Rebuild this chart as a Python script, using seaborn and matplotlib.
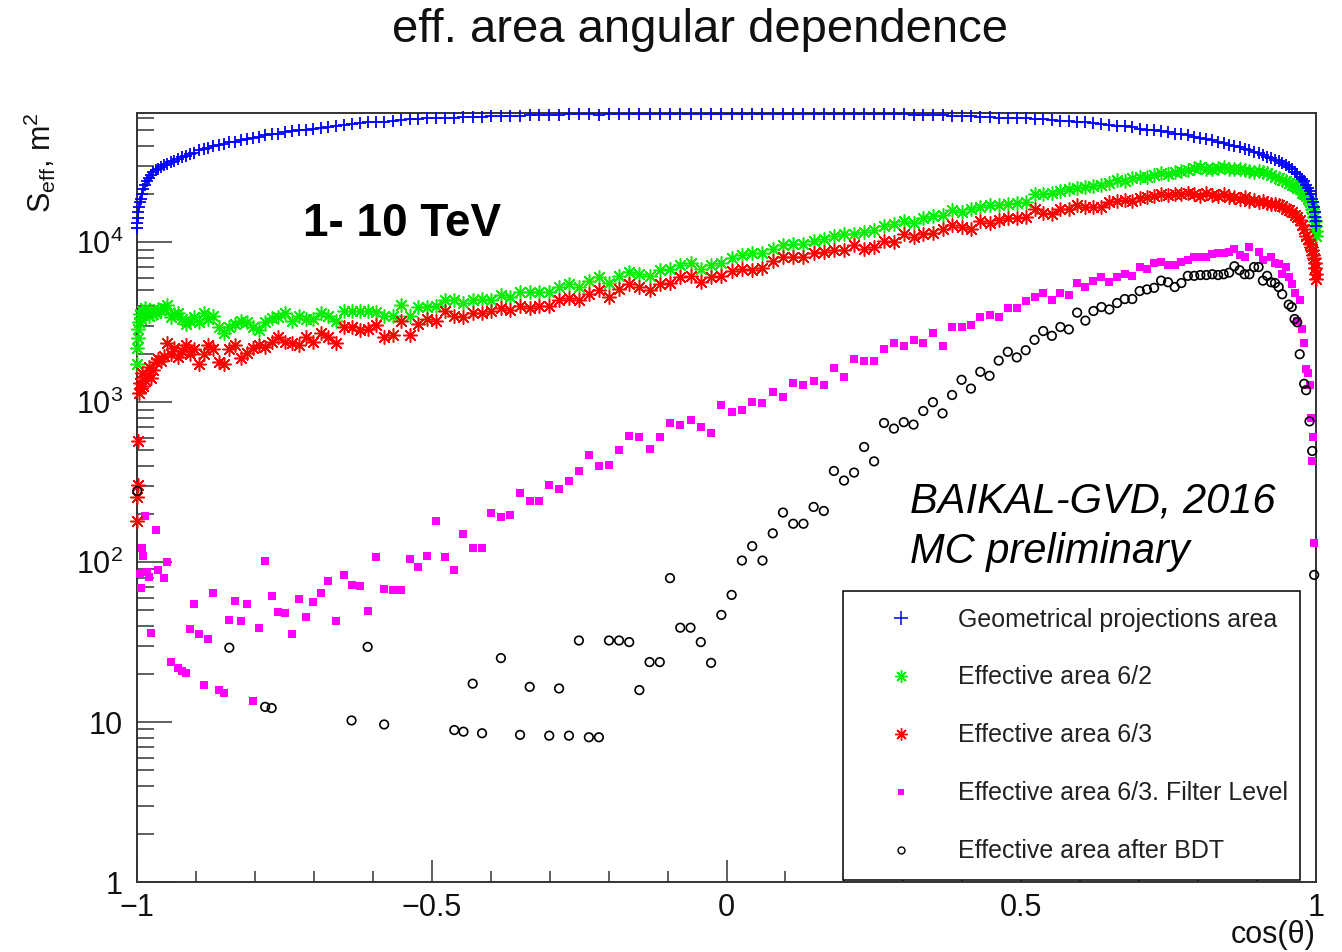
import numpy as np
import pandas as pd
import matplotlib
matplotlib.use("Agg")
import matplotlib.pyplot as plt
import seaborn as sns
from matplotlib.lines import Line2D
from matplotlib.ticker import FixedLocator, FixedFormatter, LogLocator, NullFormatter, MultipleLocator

nan = np.nan

# 1-degree zenith-angle bins; centres run from 179.5 deg down to 0.5 deg,
# so cos(theta) increases from -1 to +1 along every array below.
theta_deg = np.arange(179.5, 0.0, -1.0)
cos_theta = np.cos(np.radians(theta_deg))

# log10 of S_eff [m^2] per bin (nan = empty bin)
log_s_geom = np.array([
    4.09, 4.12, 4.15, 4.19, 4.22, 4.25, 4.27, 4.30, 4.33, 4.355,
    4.38, 4.40, 4.42, 4.44, 4.45, 4.46, 4.47, 4.48, 4.49, 4.50,
    4.51, 4.52, 4.53, 4.54, 4.55, 4.56, 4.575, 4.585, 4.59, 4.60,
    4.61, 4.615, 4.625, 4.63, 4.64, 4.645, 4.655, 4.66, 4.67, 4.675,
    4.68, 4.69, 4.695, 4.70, 4.705, 4.71, 4.715, 4.72, 4.73, 4.735,
    4.74, 4.745, 4.75, 4.75, 4.755, 4.76, 4.765, 4.77, 4.77, 4.775,
    4.775, 4.78, 4.78, 4.785, 4.785, 4.785, 4.79, 4.79, 4.79, 4.79,
    4.795, 4.795, 4.795, 4.795, 4.80, 4.80, 4.80, 4.795, 4.80, 4.80,
    4.80, 4.80, 4.80, 4.80, 4.80, 4.80, 4.80, 4.80, 4.80, 4.80,
    4.80, 4.80, 4.80, 4.80, 4.80, 4.80, 4.80, 4.80, 4.80, 4.80,
    4.80, 4.80, 4.80, 4.80, 4.80, 4.80, 4.80, 4.80, 4.795, 4.795,
    4.795, 4.795, 4.79, 4.79, 4.79, 4.785, 4.785, 4.78, 4.78, 4.775,
    4.775, 4.77, 4.77, 4.765, 4.76, 4.76, 4.755, 4.75, 4.745, 4.74,
    4.735, 4.73, 4.725, 4.72, 4.71, 4.705, 4.70, 4.695, 4.69, 4.68,
    4.675, 4.67, 4.66, 4.655, 4.645, 4.64, 4.63, 4.62, 4.61, 4.60,
    4.595, 4.585, 4.575, 4.565, 4.555, 4.545, 4.535, 4.525, 4.515, 4.505,
    4.495, 4.48, 4.47, 4.455, 4.44, 4.425, 4.41, 4.395, 4.38, 4.36,
    4.34, 4.32, 4.30, 4.27, 4.25, 4.22, 4.19, 4.16, 4.13, 4.10,
])

log_s_62 = np.array([
    3.24, 3.34, 3.46, 3.40, 3.50, 3.55, 3.52, 3.57, 3.55, 3.59,
    3.56, 3.54, 3.57, 3.55, 3.56, 3.58, 3.575, 3.59, 3.61, 3.53,
    3.55, 3.56, 3.52, 3.49, 3.51, 3.53, 3.50, 3.555, 3.52, 3.54,
    3.47, 3.43, 3.47, 3.49, 3.51, 3.50, 3.47, 3.45, 3.50, 3.525,
    3.53, 3.555, 3.51, 3.54, 3.52, 3.52, 3.555, 3.54, 3.51, 3.57,
    3.57, 3.57, 3.57, 3.565, 3.54, 3.54, 3.61, 3.54, 3.595, 3.595,
    3.60, 3.64, 3.64, 3.62, 3.64, 3.645, 3.64, 3.67, 3.655, 3.69,
    3.69, 3.69, 3.69, 3.72, 3.74, 3.72, 3.76, 3.78, 3.745, 3.79,
    3.815, 3.80, 3.79, 3.825, 3.83, 3.855, 3.87, 3.835, 3.855, 3.87,
    3.90, 3.92, 3.93, 3.93, 3.955, 3.985, 3.99, 3.99, 4.01, 4.02,
    4.04, 4.05, 4.05, 4.065, 4.075, 4.10, 4.115, 4.135, 4.12, 4.15,
    4.165, 4.17, 4.20, 4.19, 4.21, 4.22, 4.23, 4.23, 4.24, 4.245,
    4.25, 4.30, 4.30, 4.31, 4.32, 4.33, 4.34, 4.345, 4.35, 4.36,
    4.37, 4.39, 4.385, 4.40, 4.405, 4.41, 4.42, 4.43, 4.425, 4.44,
    4.445, 4.45, 4.465, 4.47, 4.455, 4.46, 4.465, 4.47, 4.46, 4.46,
    4.455, 4.45, 4.445, 4.44, 4.445, 4.44, 4.43, 4.42, 4.41, 4.40,
    4.39, 4.38, 4.37, 4.36, 4.35, 4.34, 4.33, 4.31, 4.30, 4.29,
    4.27, 4.25, 4.23, 4.21, 4.19, 4.16, 4.13, 4.10, 4.07, 4.04,
])

log_s_63 = np.array([
    2.26, 2.41, 2.48, 2.76, 3.06, 3.12, 3.09, 3.18, 3.10, 3.14,
    3.17, 3.22, 3.15, 3.20, 3.25, 3.27, 3.26, 3.29, 3.37, 3.30,
    3.34, 3.28, 3.32, 3.36, 3.30, 3.33, 3.24, 3.30, 3.36, 3.33,
    3.25, 3.24, 3.33, 3.36, 3.275, 3.31, 3.34, 3.36, 3.345, 3.375,
    3.41, 3.375, 3.37, 3.36, 3.41, 3.375, 3.43, 3.41, 3.37, 3.47,
    3.47, 3.45, 3.46, 3.48, 3.41, 3.42, 3.51, 3.42, 3.49, 3.52,
    3.51, 3.57, 3.54, 3.53, 3.555, 3.56, 3.57, 3.59, 3.575, 3.60,
    3.59, 3.60, 3.60, 3.64, 3.65, 3.64, 3.675, 3.70, 3.66, 3.705,
    3.74, 3.72, 3.70, 3.74, 3.745, 3.78, 3.79, 3.75, 3.78, 3.79,
    3.82, 3.83, 3.825, 3.84, 3.88, 3.91, 3.905, 3.91, 3.93, 3.94,
    3.95, 3.95, 3.98, 3.96, 3.97, 4.01, 4.00, 4.05, 4.03, 4.05,
    4.055, 4.085, 4.105, 4.095, 4.085, 4.13, 4.12, 4.14, 4.15, 4.15,
    4.16, 4.21, 4.18, 4.175, 4.21, 4.21, 4.23, 4.22, 4.22, 4.22,
    4.25, 4.255, 4.265, 4.26, 4.275, 4.28, 4.29, 4.30, 4.295, 4.30,
    4.30, 4.31, 4.30, 4.29, 4.31, 4.295, 4.29, 4.30, 4.285, 4.28,
    4.27, 4.28, 4.26, 4.265, 4.25, 4.255, 4.245, 4.24, 4.24, 4.23,
    4.225, 4.21, 4.20, 4.19, 4.17, 4.16, 4.14, 4.11, 4.08, 4.04,
    4.02, 3.99, 3.97, 3.95, 3.92, 3.90, 3.87, 3.84, 3.80, 3.77,
])

log_s_63_filter = np.array([
    nan, nan, nan, nan, nan, 1.925, 1.84, 2.09, 2.04, 2.29,
    1.94, 1.905, 1.56, nan, 2.20, 1.95, nan, 1.90, 2.00, 1.375,
    nan, 1.34, 1.32, 1.305, 1.58, 1.74, 1.55, 1.23, 1.52, 1.81,
    1.20, 1.18, 1.64, 1.76, 1.63, 1.74, 1.13, 1.59, 2.01, 1.79,
    1.69, 1.68, 1.55, 1.77, 1.66, 1.75, 1.81, 1.88, 1.63, 1.92,
    1.86, 1.85, 1.695, 2.035, 1.835, 1.825, 1.825, 2.02, 1.97, 2.04,
    2.26, 2.035, 1.95, 2.175, 2.09, 2.09, 2.31, 2.28, 2.295, 2.435,
    2.385, 2.385, 2.48, 2.46, 2.505, 2.57, 2.67, 2.60, 2.61, 2.70,
    2.79, 2.78, 2.705, 2.785, 2.87, 2.86, 2.89, 2.845, 2.81, 2.98,
    2.94, 2.95, 3.00, 2.995, 3.065, 3.03, 3.12, 3.105, 3.13, 3.105,
    3.215, 3.155, 3.27, 3.26, 3.26, 3.335, 3.37, 3.35, 3.39, 3.37,
    3.43, 3.35, 3.47, 3.47, 3.48, 3.53, 3.545, 3.535, 3.59, 3.59,
    3.63, 3.66, 3.68, 3.64, 3.685, 3.67, 3.745, 3.72, 3.755, 3.78,
    3.75, 3.78, 3.80, 3.79, 3.845, 3.83, 3.87, 3.875, 3.86, 3.86,
    3.875, 3.89, 3.91, 3.91, 3.91, 3.925, 3.93, 3.935, 3.94, 3.955,
    3.92, 3.91, 3.97, nan, 3.94, 3.89, nan, 3.91, 3.87, 3.865,
    3.80, 3.845, 3.78, 3.74, 3.68, 3.505, 3.64, 3.455, 3.37, 3.21,
    3.18, 3.11, 2.90, 2.63, 2.78, 2.12, nan, nan, nan, nan,
])

log_s_bdt = np.array([
    nan, 2.445, nan, nan, nan, nan, nan, nan, nan, nan,
    nan, nan, nan, nan, nan, nan, nan, nan, nan, nan,
    nan, nan, nan, nan, nan, nan, nan, nan, nan, nan,
    nan, nan, 1.465, nan, nan, nan, nan, nan, 1.095, 1.0875,
    nan, nan, nan, nan, nan, nan, nan, nan, nan, nan,
    1.01, nan, 1.47, nan, 0.985, nan, nan, nan, nan, nan,
    nan, nan, 0.95, 0.94, 1.24, 0.93, nan, 1.40, nan, 0.92,
    1.22, nan, 0.915, 1.21, 0.915, 1.51, 0.905, 0.905, 1.51, 1.51,
    1.50, 1.20, 1.375, 1.375, 1.90, 1.59, 1.59, 1.50, 1.37, 1.67,
    1.795, 2.01, 2.10, 2.01, 2.18, 2.31, 2.24, 2.24, 2.345, 2.32,
    2.57, 2.51, 2.56, 2.72, 2.63, 2.87, 2.835, 2.875, 2.86, 2.945,
    3.00, 2.93, 3.045, 3.14, 3.085, 3.19, 3.165, 3.26, 3.315, 3.28,
    3.325, 3.39, 3.445, 3.415, 3.47, 3.455, 3.56, 3.51, 3.57, 3.595,
    3.58, 3.62, 3.645, 3.645, 3.695, 3.705, 3.715, 3.76, 3.75, 3.72,
    3.745, 3.79, 3.79, 3.795, 3.795, 3.80, 3.795, 3.80, 3.81, 3.85,
    3.825, 3.80, 3.80, 3.845, 3.845, 3.76, 3.79, 3.75, 3.745, 3.72,
    3.675, nan, 3.61, 3.595, 3.52, 3.50, 3.30, nan, 3.115, 3.075,
    nan, 2.88, nan, 2.695, nan, 1.92, nan, nan, nan, nan,
])

series_labels = [
    "Geometrical projections area",
    "Effective area 6/2",
    "Effective area 6/3",
    "Effective area 6/3. Filter Level",
    "Effective area after BDT",
]

x_tick_values = [-1, -0.5, 0, 0.5, 1]
x_tick_labels = ["\u22121", "\u22120.5", "0", "0.5", "1"]
y_tick_values = [1, 10, 100, 1000, 10000]
y_tick_labels = ["1", "10", "$10^{2}$", "$10^{3}$", "$10^{4}$"]

# ---------------------------------------------------------------- style
sns.set_style("ticks")
plt.rcParams["font.family"] = ["Liberation Sans", "DejaVu Sans"]
plt.rcParams["mathtext.fontset"] = "custom"
plt.rcParams["mathtext.rm"] = "Liberation Sans"
plt.rcParams["mathtext.it"] = "Liberation Sans:italic"
plt.rcParams["mathtext.bf"] = "Liberation Sans:bold"
plt.rcParams["axes.unicode_minus"] = True

W, H = 1342, 952
fig = plt.figure(figsize=(W / 100, H / 100), dpi=100)
fig.patch.set_facecolor("white")
ax = fig.add_axes([137 / W, 70 / H, 1179 / W, 769 / H])
ax.set_facecolor("white")

frames = []
for log_vals in [log_s_geom, log_s_62, log_s_63, log_s_63_filter, log_s_bdt]:
    frames.append(pd.DataFrame({"cos_theta": cos_theta, "s_eff": 10.0 ** log_vals}).dropna())

blue, green, red, magenta = "#0000ff", "#00ee00", "#ff0000", "#ff00ff"
star = (8, 2, 0)

sns.scatterplot(data=frames[0], x="cos_theta", y="s_eff", ax=ax, marker="+",
                color=blue, s=85, linewidth=1.3, clip_on=False, zorder=5, legend=False)
sns.scatterplot(data=frames[1], x="cos_theta", y="s_eff", ax=ax, marker=star,
                color=green, s=95, linewidth=1.1, clip_on=False, zorder=4, legend=False)
sns.scatterplot(data=frames[2], x="cos_theta", y="s_eff", ax=ax, marker=star,
                color=red, s=95, linewidth=1.1, clip_on=False, zorder=4, legend=False)
sns.scatterplot(data=frames[3], x="cos_theta", y="s_eff", ax=ax, marker="s",
                color=magenta, s=28, linewidth=0, clip_on=False, zorder=3, legend=False)
sns.scatterplot(data=frames[4], x="cos_theta", y="s_eff", ax=ax, marker="o",
                facecolor="none", edgecolor="black", s=38, linewidth=1.2,
                clip_on=False, zorder=6, legend=False)

# ---------------------------------------------------------------- axes
ax.set_xlim(-1, 1)
ax.set_yscale("log")
ax.set_ylim(1, 6.43e4)
ax.set_xlabel("")
ax.set_ylabel("")

ax.xaxis.set_major_locator(FixedLocator(x_tick_values))
ax.xaxis.set_major_formatter(FixedFormatter(x_tick_labels))
ax.xaxis.set_minor_locator(MultipleLocator(0.1))
ax.yaxis.set_major_locator(FixedLocator(y_tick_values))
ax.yaxis.set_major_formatter(FixedFormatter(y_tick_labels))
ax.yaxis.set_minor_locator(LogLocator(base=10, subs=np.arange(2, 10)))
ax.yaxis.set_minor_formatter(NullFormatter())

frame_col = "#333333"
for sp in ax.spines.values():
    sp.set_visible(True)
    sp.set_color(frame_col)
    sp.set_linewidth(1.4)

ax.tick_params(axis="both", which="both", direction="in", color=frame_col, width=1.1,
               top=False, right=False, labelcolor="#111111", labelsize=22)
ax.tick_params(axis="x", which="major", length=16, pad=8)
ax.tick_params(axis="x", which="minor", length=8)
ax.tick_params(axis="y", which="major", length=25, pad=10)
ax.tick_params(axis="y", which="minor", length=12)

# ---------------------------------------------------------------- texts
fig.text(700 / W, 1 - 42 / H, "eff. area angular dependence", ha="center", va="baseline",
         fontsize=34, color="#111111")
fig.text(40 / W, 1 - 112 / H, r"S$_{\rm eff}$, m$^{2}$", rotation=90, ha="center", va="top",
         fontsize=22, color="#111111")
fig.text(1316 / W, 1 - 935 / H, "cos(\u03b8)", ha="right", va="center", fontsize=22,
         color="#111111")
fig.text(303 / W, 1 - 236 / H, "1- 10 TeV", ha="left", va="baseline", fontsize=33,
         fontweight="bold", color="black")
fig.text(910 / W, 1 - 513 / H, "BAIKAL-GVD, 2016", ha="left", va="baseline", fontsize=30,
         style="italic", color="black")
fig.text(910 / W, 1 - 563 / H, "MC preliminary", ha="left", va="baseline", fontsize=30,
         style="italic", color="black")

# ---------------------------------------------------------------- legend
handles = [
    Line2D([], [], ls="none", marker="+", color=blue, markersize=10, mew=1.1),
    Line2D([], [], ls="none", marker=star, color=green, markersize=9, mew=1.0),
    Line2D([], [], ls="none", marker=star, color=red, markersize=9, mew=1.0),
    Line2D([], [], ls="none", marker="s", color=magenta, markersize=4.5, mew=0),
    Line2D([], [], ls="none", marker="o", markerfacecolor="none", markeredgecolor="black",
           markersize=5, mew=1.0),
]
leg = ax.legend(handles, series_labels, loc="lower left",
                bbox_to_anchor=(706 / 1179, 2 / 769, 457 / 1179, 0.37), mode="expand",
                borderaxespad=0, frameon=True, fancybox=False, framealpha=1,
                edgecolor="black", fontsize=18, labelspacing=1.36, borderpad=0.66,
                handlelength=3.3, handletextpad=0.66)
leg.get_frame().set_linewidth(1.1)
for t in leg.get_texts():
    t.set_color("#222222")
leg.set_zorder(10)

fig.savefig("out.png", dpi=100, facecolor="white")
